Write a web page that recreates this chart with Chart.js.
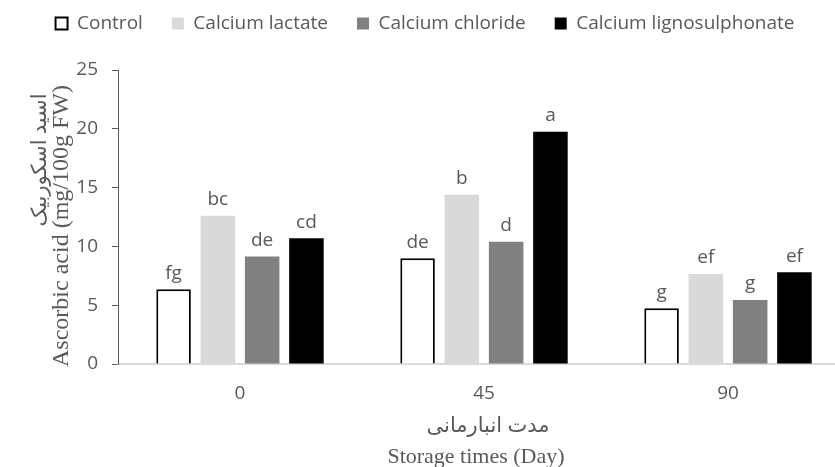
<!DOCTYPE html>
<html>
<head>
<meta charset="utf-8">
<script src="https://cdn.jsdelivr.net/npm/chart.js@4"></script>
<style>
  html, body { margin: 0; padding: 0; background: #fff; overflow: hidden; }
  #wrap { width: 850px; height: 467px; }
</style>
</head>
<body>
<div id="wrap"><canvas id="myChart" width="850" height="467"></canvas></div>
<script>
const days = ['0', '45', '90'];
const control = [6.35, 9.0, 4.75];
const lactate = [12.6, 14.4, 7.65];
const chloride = [9.15, 10.4, 5.45];
const ligno = [10.7, 19.75, 7.8];
const letters = {
  'Control': ['fg', 'de', 'g'],
  'Calcium lactate': ['bc', 'b', 'ef'],
  'Calcium chloride': ['de', 'd', 'g'],
  'Calcium lignosulphonate': ['cd', 'a', 'ef']
};
const yTitle = ['اسید اسکوربیک', 'Ascorbic acid (mg/100g FW)'];
const xTitle = ['مدت انبارمانی', 'Storage times (Day)'];

const grey = '#595959';

const ctx = document.getElementById('myChart').getContext('2d');

const data = {
  labels: days,
  datasets: [
    {
      label: 'Control',
      data: control,
      backgroundColor: '#ffffff',
      borderColor: '#000000',
      borderWidth: 2
    },
    {
      label: 'Calcium lactate',
      data: lactate,
      backgroundColor: '#d9d9d9'
    },
    {
      label: 'Calcium chloride',
      data: chloride,
      backgroundColor: '#808080'
    },
    {
      label: 'Calcium lignosulphonate',
      data: ligno,
      backgroundColor: '#000000'
    }
  ]
};

const config = {
  type: 'bar',
  data: data,
  options: {
    responsive: false,
    animation: false,
    categoryPercentage: 0.726,
    barPercentage: 0.78,
    layout: {
      padding: 0
    },
    plugins: {
      legend: {
        position: 'top',
        labels: {
          color: grey,
          font: { family: 'Open Sans', size: 19 },
          boxWidth: 12,
          boxHeight: 12,
          padding: 29
        }
      },
      tooltip: { enabled: false }
    },
    scales: {
      x: {
        grid: { display: false },
        border: { color: '#d9d9d9', width: 2 },
        ticks: {
          color: grey,
          font: { family: 'Open Sans', size: 19 },
          padding: 10
        },
        afterFit(scale) { scale.height = 103; }
      },
      y: {
        min: 0,
        max: 25,
        grid: { drawOnChartArea: false, drawTicks: true, tickLength: 6, color: grey },
        border: { color: grey, width: 1 },
        ticks: {
          stepSize: 5,
          color: grey,
          font: { family: 'Open Sans', size: 19 },
          padding: 14
        },
        afterFit(scale) { scale.width = 118; }
      }
    }
  },
  plugins: [{
    beforeInit(chart) {
      const fit = chart.legend.fit;
      chart.legend.fit = function () {
        fit.bind(chart.legend)();
        this.height = 70;
      };
    },
    afterLayout(chart) {
      // pull the legend row up to the top edge
      chart.legend.top = -15;
    }
  }, {
    afterDatasetsDraw(chart) {
      const c = chart.ctx;
      chart.data.datasets.forEach((dataset, i) => {
        chart.getDatasetMeta(i).data.forEach((bar, j) => {
          c.save();
          c.fillStyle = grey;
          c.font = '19px "Open Sans"';
          c.textAlign = 'center';
          c.fillText(letters[dataset.label][j], bar.x, bar.y - 16);
          c.restore();
        });
      });

      // axis titles (Persian + English)
      const {chartArea: {left, right, top, bottom}} = chart;
      const midX = (left + right) / 2;
      c.save();
      c.fillStyle = grey;
      c.textAlign = 'center';
      c.textBaseline = 'middle';
      c.font = '21px "Liberation Serif", "DejaVu Sans"';
      c.fillText(xTitle[0], midX + 4, 426);
      c.font = '22px "Liberation Serif"';
      c.fillText(xTitle[1], midX - 8, 457);

      c.translate(40, 160);
      c.rotate(-Math.PI / 2);
      c.font = '21px "Liberation Serif", "DejaVu Sans"';
      c.fillText(yTitle[0], 0, 0);
      c.restore();

      c.save();
      c.fillStyle = grey;
      c.textAlign = 'center';
      c.textBaseline = 'middle';
      c.translate(62, 226);
      c.rotate(-Math.PI / 2);
      c.font = '24px "Liberation Serif"';
      c.fillText(yTitle[1], 0, 0);
      c.restore();
    }
  }]
};

const myChart = new Chart(ctx, config);
</script>
</body>
</html>
